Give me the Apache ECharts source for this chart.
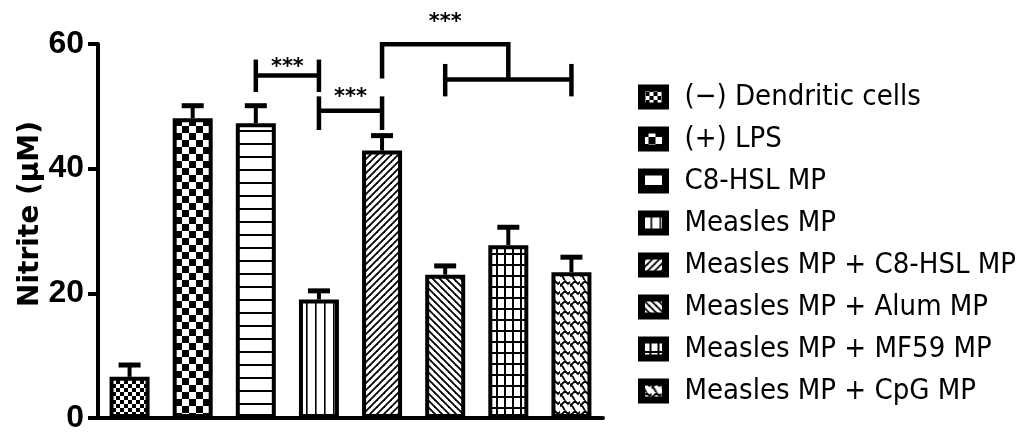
<!DOCTYPE html>
<html lang="en">
<head>
	<meta charset="UTF-8">
	<title>Nitrite</title>
	<script src="https://cdn.jsdelivr.net/npm/echarts@6/dist/echarts.min.js"></script>
	<style>
		html, body { margin: 0; padding: 0; background: #fff; }
		#chart { width: 1035px; height: 434px; }
	</style>
</head>
<body>
	<div id="chart"></div>

	<script type="text/javascript">
		// groups (one bar each)
		var groups = ['(\u2212) Dendritic cells', '(+) LPS', 'C8-HSL MP', 'Measles MP',
			'Measles MP + C8-HSL MP', 'Measles MP + Alum MP', 'Measles MP + MF59 MP', 'Measles MP + CpG MP'];
		// mean nitrite (uM)
		var means = [6.6, 48.1, 47.3, 19.0, 42.9, 23.0, 27.7, 23.4];
		// top of the error bar (mean + SEM)
		var errTops = [8.5, 50.1, 50.1, 20.4, 45.3, 24.4, 30.6, 25.8];
		var yTicks = [0, 20, 40, 60];

		// significance brackets: polylines of [group index, value]
		var brackets = [
			[[2, 57.5], [2, 52.3]], [[3, 57.5], [3, 52.3]], [[2, 54.95], [3, 54.95]],
			[[3, 51.6], [3, 46.2]], [[4, 51.6], [4, 46.2]], [[3, 49.3], [4, 49.3]],
			[[4, 54.45], [4, 59.95], [6, 59.95], [6, 54.3]],
			[[5, 54.3], [7, 54.3]], [[5, 56.8], [5, 51.6]], [[7, 56.8], [7, 51.6]]
		];
		// star labels: [group index, value, text]
		var stars = [[2.5, 56.3, '***'], [3.5, 51.4, '***'], [5, 63.4, '***']];

		var narrow = '"DejaVu Sans Condensed", "Liberation Sans", sans-serif';

		// fill patterns
		function tile(w, h, draw) {
			var c = document.createElement('canvas');
			c.width = w; c.height = h;
			var g = c.getContext('2d');
			g.fillStyle = '#fff';
			g.fillRect(0, 0, w, h);
			g.fillStyle = '#000';
			g.strokeStyle = '#000';
			draw(g, w, h);
			return { image: c, repeat: 'repeat' };
		}
		function line(g, x1, y1, x2, y2, lw) {
			g.lineWidth = lw;
			g.beginPath(); g.moveTo(x1, y1); g.lineTo(x2, y2); g.stroke();
		}
		var patterns = [
			tile(8, 8, function (g) { g.fillRect(0, 0, 4, 4); g.fillRect(4, 4, 4, 4); }),
			tile(14, 14, function (g) { g.fillRect(0, 0, 7, 7); g.fillRect(7, 7, 7, 7); }),
			tile(4, 13, function (g) { g.fillRect(0, 0, 4, 2); }),
			tile(9, 4, function (g) { g.fillRect(0, 0, 1.6, 4); }),
			tile(7, 7, function (g, w, h) {
				line(g, -1, h + 1, w + 1, -1, 1.8);
				line(g, -1, 1, 1, -1, 1.8);
				line(g, w - 1, h + 1, w + 1, h - 1, 1.8);
			}),
			tile(7, 7, function (g, w, h) {
				line(g, -1, -1, w + 1, h + 1, 1.8);
				line(g, w - 1, -1, w + 1, 1, 1.8);
				line(g, -1, h - 1, 1, h + 1, 1.8);
			}),
			tile(8.5, 11, function (g) { g.fillRect(0, 0, 2, 11); g.fillRect(0, 0, 8.5, 2); }),
			tile(10, 10, function (g) {
				g.lineWidth = 1.8;
				g.beginPath();
				g.moveTo(-1, 7); g.lineTo(5, 1); g.lineTo(8, 4); g.lineTo(11, 1);
				g.moveTo(-1, 17); g.lineTo(5, 11);
				g.moveTo(0, 4); g.lineTo(3, 7); g.lineTo(5, 11);
				g.stroke();
			})
		];

		var series = groups.map(function (name, i) {
			return {
				name: name,
				type: 'bar',
				barWidth: 40,
				barGap: '-100%',
				z: 3,
				itemStyle: { color: patterns[i], borderColor: '#000', borderWidth: 4 },
				data: groups.map(function (g, j) { return j === i ? means[i] : '-'; })
			};
		});

		// error bars (upper only)
		series.push({
			type: 'custom',
			z: 2,
			clip: false,
			encode: { x: 0, y: [1, 2] },
			data: means.map(function (m, i) { return [i, m, errTops[i]]; }),
			renderItem: function (params, api) {
				var p0 = api.coord([api.value(0), api.value(1)]);
				var p1 = api.coord([api.value(0), api.value(2)]);
				return {
					type: 'group',
					children: [
						{ type: 'line', shape: { x1: p0[0], y1: p0[1], x2: p1[0], y2: p1[1] }, style: { stroke: '#000', lineWidth: 4 } },
						{ type: 'line', shape: { x1: p1[0] - 11, y1: p1[1], x2: p1[0] + 11, y2: p1[1] }, style: { stroke: '#000', lineWidth: 5 } }
					]
				};
			}
		});

		// brackets
		series.push({
			type: 'custom',
			z: 4,
			clip: false,
			silent: true,
			data: brackets.map(function (b, i) { return [i, b[0][1]]; }),
			renderItem: function (params, api) {
				var pts = brackets[params.dataIndex].map(function (p) { return api.coord(p); });
				return { type: 'polyline', shape: { points: pts }, style: { stroke: '#000', lineWidth: 4.5, fill: null, lineJoin: 'miter' } };
			}
		});

		// stars
		series.push({
			type: 'custom',
			z: 4,
			clip: false,
			silent: true,
			data: stars,
			renderItem: function (params, api) {
				var s = stars[params.dataIndex];
				var a = api.coord([Math.floor(s[0]), s[1]]);
				var b = api.coord([Math.ceil(s[0]), s[1]]);
				var f = s[0] - Math.floor(s[0]);
				return {
					type: 'text',
					x: a[0] + (b[0] - a[0]) * f,
					y: a[1],
					style: { text: s[2], fill: '#000', font: 'bold 21px "DejaVu Sans"', align: 'center', verticalAlign: 'middle' }
				};
			}
		});

		var myChart = echarts.init(document.getElementById('chart'));
		myChart.setOption({
			animation: false,
			backgroundColor: '#fff',
			grid: { left: 98, top: 44, width: 505, bottom: 11.7, containLabel: false },
			legend: {
				orient: 'vertical',
				left: 638,
				top: 81,
				padding: 0,
				itemWidth: 24,
				itemHeight: 18,
				itemGap: 10,
				selectedMode: false,
				icon: 'rect',
				data: groups,
				itemStyle: { borderColor: '#000', borderWidth: 7 },
				textStyle: {
					fontFamily: narrow,
					fontSize: 29,
					lineHeight: 32,
					color: '#000',
					padding: [0, 0, 0, 14]
				}
			},
			xAxis: {
				type: 'category',
				data: groups,
				axisLine: { lineStyle: { color: '#000', width: 4 } },
				axisTick: { alignWithLabel: true, length: 12, lineStyle: { color: '#000', width: 3.5 } },
				axisLabel: { show: false },
				splitLine: { show: false }
			},
			yAxis: {
				type: 'value',
				min: yTicks[0],
				max: yTicks[yTicks.length - 1],
				interval: yTicks[1] - yTicks[0],
				name: 'Nitrite (\u00b5M)',
				nameLocation: 'middle',
				nameGap: 53,
				nameTextStyle: {
					fontFamily: '"DejaVu Sans"', fontWeight: 'bold', fontSize: 28, color: '#000',
					padding: [0, 0, 0, 34]
				},
				axisLine: { show: true, lineStyle: { color: '#000', width: 4 } },
				axisTick: { show: true, length: 10, lineStyle: { color: '#000', width: 4 } },
				axisLabel: {
					margin: 14,
					fontFamily: '"Liberation Sans", sans-serif',
					fontWeight: 'bold',
					fontSize: 32,
					color: '#000'
				},
				splitLine: { show: false }
			},
			series: series
		});
	</script>
</body>
</html>
